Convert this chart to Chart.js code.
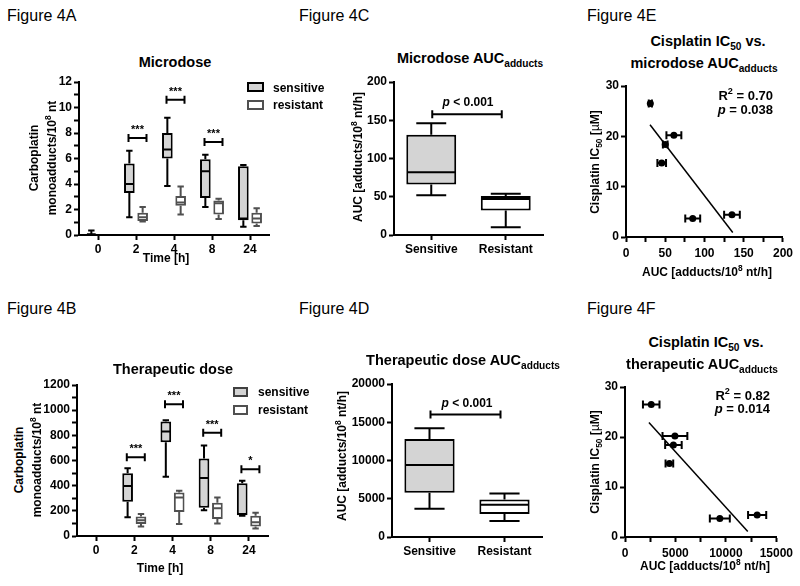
<!DOCTYPE html>
<html>
<head>
<meta charset="utf-8">
<script src="https://cdn.jsdelivr.net/npm/chart.js@4.4.1/dist/chart.umd.min.js"></script>
<style>
  body { margin: 0; background: #fff; }
  #page { position: relative; width: 800px; height: 586px; overflow: hidden; font-family: "Liberation Sans", Arial, Helvetica, sans-serif; color: #000; }
  canvas { position: absolute; }
  .t { position: absolute; white-space: nowrap; font-weight: bold; font-size: 12px; line-height: 1; }
  .t sup, .t sub { font-size: 70%; line-height: 0; }
  .sq { position: absolute; box-sizing: border-box; border: 2px solid #000; }
</style>
</head>
<body>
<div id="page">
  <canvas id="chartA"></canvas>
  <canvas id="chartB"></canvas>
  <canvas id="chartC"></canvas>
  <canvas id="chartD"></canvas>
  <canvas id="chartE"></canvas>
  <canvas id="chartF"></canvas>
</div>
<script>
const FONT = '"Liberation Sans", Arial, Helvetica, sans-serif';
const BOX_FILL = '#d4d4d4';
const RES_LINE = '#505050';

// box plots: [min, q1, median, q3, max] per time point
const timeLabels = ['0', '2', '4', '8', '24'];
const microSensitive = [[0, 0, 0.05, 0.1, 0.35], [1.4, 3.3, 4.0, 5.6, 6.6], [3.85, 6.0, 6.7, 8.0, 9.2], [2.2, 2.9, 5.0, 5.95, 6.3], [0.65, 1.15, 1.3, 5.4, 5.5]];
const microResistant = [null, [1.05, 1.1, 1.4, 1.75, 2.2], [1.6, 2.3, 2.55, 3.05, 3.8], [1.25, 1.6, 2.5, 2.7, 2.85], [0.7, 0.9, 1.3, 1.75, 2.1]];
const microBrackets = [null, 7.6, 10.6, 7.3, null];
const microStars = ['', '***', '***', '***', ''];

const therSensitive = [null, [149, 273, 397, 498, 538], [470, 745, 830, 910, 920], [205, 225, 460, 615, 720], [160, 165, 175, 420, 440]];
const therResistant = [null, [75, 95, 125, 155, 175], [95, 190, 305, 345, 360], [100, 135, 220, 265, 305], [60, 75, 110, 160, 185]];
const therBrackets = [null, 625, 1047, 821, 530];
const therStars = ['', '***', '***', '***', '*'];

const groupLabels = ['Sensitive', 'Resistant'];
const aucMicroSensitive = [52, 66, 82, 131, 146];
const aucMicroResistant = [10, 32, 47, 51, 54];
const aucTherSensitive = [3700, 5800, 9400, 12800, 14200];
const aucTherResistant = [2100, 3000, 4200, 4900, 5700];
const aucMicroBracket = 158;
const aucTherBracket = 16000;

// correlation panels
const ic50 = [26.5, 20.2, 18.4, 14.7, 3.7, 4.4];
const aucMicro = [31, 61, 50, 45.5, 85, 135];
const aucMicroErr = [2, 9.5, 3, 5.5, 9.5, 10];
const aucTher = [2600, 4950, 4800, 4400, 9400, 13100];
const aucTherErr = [820, 1230, 820, 380, 990, 900];
const microFit = [[30.6, 22.3], [136, 0.9]];
const therFit = [[2370, 22.9], [12170, 1.1]];

Chart.defaults.font.family = FONT;
const page = document.getElementById('page');

function text(html, x, y, style) {
  const el = document.createElement('div');
  el.className = 't';
  el.innerHTML = html;
  el.style.left = x + 'px';
  el.style.top = y + 'px';
  el.style.transform = 'translate(-50%, -50%)';
  Object.assign(el.style, style || {});
  page.appendChild(el);
}

function square(x, y, w, h, fill, border) {
  const el = document.createElement('div');
  el.className = 'sq';
  Object.assign(el.style, { left: x + 'px', top: y + 'px', width: w + 'px', height: h + 'px', background: fill, borderColor: border });
  page.appendChild(el);
}

// position a canvas so that its chart area lands on `area`
function setupCanvas(id, area, yW, xH, padTop, padRight) {
  const c = document.getElementById(id);
  const left = area.left - yW;
  const top = area.top - padTop;
  c.style.left = left + 'px';
  c.style.top = top + 'px';
  c.width = area.right + padRight - left;
  c.height = area.bottom + xH - top;
  return c;
}

function axis(ticks, size) {
  return {
    grid: { display: true, drawOnChartArea: false, drawTicks: true, tickLength: 5, tickColor: '#000', tickWidth: 2, offset: false },
    border: { display: true, color: '#000', width: 2 },
    ticks: Object.assign({ color: '#000', font: { family: FONT, size: 12, weight: 'bold' }, padding: 2, autoSkip: false, maxRotation: 0 }, ticks),
    afterFit: size
  };
}

// whiskers + medians on top of floating bars
function boxPlugin(statsList) {
  return {
    id: 'boxes',
    afterDatasetsDraw(chart) {
      const ctx = chart.ctx;
      const ys = chart.scales.y;
      ctx.save();
      ctx.lineWidth = 2;
      statsList.forEach((stats, di) => {
        const ds = chart.data.datasets[di];
        chart.getDatasetMeta(di).data.forEach((bar, i) => {
          const s = stats[i];
          if (!s) return;
          const x = bar.x, w = bar.width, cap = w * 0.3;
          ctx.strokeStyle = Array.isArray(ds.borderColor) ? ds.borderColor[i] : ds.borderColor;
          const p = s.map(v => ys.getPixelForValue(v));
          ctx.beginPath();
          ctx.moveTo(x, p[4]); ctx.lineTo(x, p[3]);
          ctx.moveTo(x, p[1]); ctx.lineTo(x, p[0]);
          ctx.moveTo(x - cap, p[4]); ctx.lineTo(x + cap, p[4]);
          ctx.moveTo(x - cap, p[0]); ctx.lineTo(x + cap, p[0]);
          ctx.moveTo(x - w / 2 + 1, p[2]); ctx.lineTo(x + w / 2 - 1, p[2]);
          ctx.stroke();
        });
      });
      ctx.restore();
    }
  };
}

function bracket(ctx, x0, x1, y) {
  ctx.beginPath();
  ctx.moveTo(x0, y); ctx.lineTo(x1, y);
  ctx.moveTo(x0, y - 4); ctx.lineTo(x0, y + 4);
  ctx.moveTo(x1, y - 4); ctx.lineTo(x1, y + 4);
  ctx.stroke();
}

function starPlugin(levels, stars) {
  return {
    id: 'stars',
    afterDatasetsDraw(chart) {
      const ctx = chart.ctx;
      ctx.save();
      ctx.strokeStyle = '#000';
      ctx.fillStyle = '#000';
      ctx.lineWidth = 2;
      ctx.font = 'bold 11px ' + FONT;
      ctx.textAlign = 'center';
      levels.forEach((v, i) => {
        if (v === null) return;
        const xc = chart.scales.x.getPixelForValue(i) + 1.5;
        const y = chart.scales.y.getPixelForValue(v);
        bracket(ctx, xc - 9, xc + 9, y);
        ctx.fillText(stars[i], xc, y - 5);
      });
      ctx.restore();
    }
  };
}

function pairBracketPlugin(level) {
  return {
    id: 'pair',
    afterDatasetsDraw(chart) {
      const ctx = chart.ctx;
      ctx.save();
      ctx.strokeStyle = '#000';
      ctx.lineWidth = 2;
      bracket(ctx, chart.scales.x.getPixelForValue(0) + 1, chart.scales.x.getPixelForValue(1) - 4, chart.scales.y.getPixelForValue(level));
      ctx.restore();
    }
  };
}

function errorBarPlugin(xs, ys, errs) {
  return {
    id: 'xerr',
    beforeDatasetsDraw(chart) {
      const ctx = chart.ctx, sx = chart.scales.x, sy = chart.scales.y;
      ctx.save();
      ctx.strokeStyle = '#000';
      ctx.lineWidth = 2;
      xs.forEach((v, i) => {
        const x0 = sx.getPixelForValue(v - errs[i]);
        const x1 = sx.getPixelForValue(v + errs[i]);
        const py = sy.getPixelForValue(ys[i]);
        bracket(ctx, x0, x1, py);
      });
      ctx.restore();
    }
  };
}

const baseOptions = (padTop, padRight) => ({
  responsive: false,
  animation: false,
  devicePixelRatio: 1,
  layout: { padding: { top: padTop, right: padRight, left: 0, bottom: 0 } },
  plugins: { legend: { display: false }, tooltip: { enabled: false } }
});

function timeChart(id, area, sens, res, levels, stars, yMax, yStep, yLabelStep) {
  const c = setupCanvas(id, area, 50, 26, 12, 8);
  const opts = baseOptions(12, 8);
  opts.scales = {
    x: axis({}, s => { s.height = 26; }),
    y: axis({ stepSize: yStep, callback: v => (v % yLabelStep === 0 ? String(v) : '') }, s => { s.width = 50; })
  };
  opts.scales.y.min = 0;
  opts.scales.y.max = yMax;
  new Chart(c, {
    type: 'bar',
    data: {
      labels: timeLabels,
      datasets: [
        { label: 'sensitive', data: sens.map(s => (s ? [s[1], s[3]] : null)), backgroundColor: BOX_FILL, borderColor: '#000', borderWidth: 2, borderSkipped: false, categoryPercentage: 0.7, barPercentage: 0.8 },
        { label: 'resistant', data: res.map(s => (s ? [s[1], s[3]] : null)), backgroundColor: '#fff', borderColor: RES_LINE, borderWidth: 2, borderSkipped: false, categoryPercentage: 0.7, barPercentage: 0.8 }
      ]
    },
    options: opts,
    plugins: [boxPlugin([sens, res]), starPlugin(levels, stars)]
  });
}

function groupChart(id, area, yW, sens, res, level, yMax, yStep) {
  const c = setupCanvas(id, area, yW, 26, 12, 6);
  const opts = baseOptions(12, 6);
  opts.scales = {
    x: axis({}, s => { s.height = 26; }),
    y: axis({ stepSize: yStep, callback: v => String(v) }, s => { s.width = yW; })
  };
  opts.scales.y.min = 0;
  opts.scales.y.max = yMax;
  new Chart(c, {
    type: 'bar',
    data: {
      labels: groupLabels,
      datasets: [
        { data: [[sens[1], sens[3]], [res[1], res[3]]], backgroundColor: [BOX_FILL, '#fff'], borderColor: ['#000', '#000'], borderWidth: 2, borderSkipped: false, categoryPercentage: 1, barPercentage: 0.67 }
      ]
    },
    options: opts,
    plugins: [boxPlugin([[sens, res]]), pairBracketPlugin(level)]
  });
}

function corrChart(id, area, padRight, xs, errs, fit, xMax, xStep, xLabelStep) {
  const c = setupCanvas(id, area, 40, 28, 12, padRight);
  const opts = baseOptions(12, padRight);
  opts.scales = {
    x: axis({ stepSize: xStep, padding: 4, callback: v => (v % xLabelStep === 0 ? String(v) : '') }, s => { s.height = 28; }),
    y: axis({ stepSize: 10, callback: v => String(v) }, s => { s.width = 40; })
  };
  opts.scales.x.type = 'linear';
  opts.scales.x.min = 0;
  opts.scales.x.max = xMax;
  opts.scales.y.min = 0;
  opts.scales.y.max = 30;
  new Chart(c, {
    type: 'scatter',
    data: {
      datasets: [
        { data: xs.map((v, i) => ({ x: v, y: ic50[i] })), pointRadius: 3.5, pointBackgroundColor: '#000', pointBorderColor: '#000', pointBorderWidth: 0 },
        { type: 'line', data: fit.map(p => ({ x: p[0], y: p[1] })), borderColor: '#000', borderWidth: 1.5, pointRadius: 0 }
      ]
    },
    options: opts,
    plugins: [errorBarPlugin(xs, ic50, errs)]
  });
}

timeChart('chartA', { left: 79, top: 82, right: 269, bottom: 235 }, microSensitive, microResistant, microBrackets, microStars, 12, 1, 2);
timeChart('chartB', { left: 77, top: 385, right: 268, bottom: 536 }, therSensitive, therResistant, therBrackets, therStars, 1200, 100, 200);
groupChart('chartC', { left: 394, top: 82, right: 543, bottom: 235 }, 45, aucMicroSensitive, aucMicroResistant, aucMicroBracket, 200, 50);
groupChart('chartD', { left: 392, top: 384, right: 542, bottom: 537 }, 45, aucTherSensitive, aucTherResistant, aucTherBracket, 20000, 5000);
corrChart('chartE', { left: 626, top: 86, right: 783, bottom: 237 }, 14, aucMicro, aucMicroErr, microFit, 200, 25, 50);
corrChart('chartF', { left: 625, top: 387, right: 777, bottom: 537 }, 20, aucTher, aucTherErr, therFit, 15000, 2500, 5000);

// panel labels
const figStyle = { fontWeight: 'normal', fontSize: '16px', transform: 'translate(0, -50%)' };
text('Figure 4A', 7, 16, figStyle);
text('Figure 4B', 7, 309, figStyle);
text('Figure 4C', 299, 16, figStyle);
text('Figure 4D', 299, 309, figStyle);
text('Figure 4E', 587, 16, figStyle);
text('Figure 4F', 587, 309, figStyle);

// titles
const titleStyle = { fontSize: '14.5px' };
text('Microdose', 175, 62, titleStyle);
text('Therapeutic dose', 173, 369, titleStyle);
text('Microdose AUC<sub>adducts</sub>', 470, 58, titleStyle);
text('Therapeutic dose AUC<sub>adducts</sub>', 463, 360, titleStyle);
text('Cisplatin IC<sub>50</sub> vs.', 708, 41, titleStyle);
text('microdose AUC<sub>adducts</sub>', 704, 63, titleStyle);
text('Cisplatin IC<sub>50</sub> vs.', 706, 342, titleStyle);
text('therapeutic AUC<sub>adducts</sub>', 702, 364, titleStyle);

// axis titles
const rot = { transform: 'translate(-50%, -50%) rotate(-90deg)' };
text('Carboplatin', 34, 158, rot);
text('monoadducts/10<sup>8</sup> nt', 52, 158, rot);
text('Carboplatin', 19, 460, rot);
text('monoadducts/10<sup>8</sup> nt', 37, 460, rot);
text('AUC [adducts/10<sup>8</sup> nt/h]', 358, 157, rot);
text('AUC [adducts/10<sup>8</sup> nt/h]', 342, 456, rot);
text('Cisplatin IC<sub>50</sub> [<span style="font-weight:normal">µ</span>M]', 595, 162, rot);
text('Cisplatin IC<sub>50</sub> [<span style="font-weight:normal">µ</span>M]', 595, 462, rot);
text('Time [h]', 166, 258);
text('Time [h]', 160, 568);
text('AUC [adducts/10<sup>8</sup> nt/h]', 707, 272);
text('AUC [adducts/10<sup>8</sup> nt/h]', 705, 566);

// legends
square(247, 82, 17, 10, BOX_FILL, '#000');
square(247, 100, 17, 10, '#fff', RES_LINE);
text('sensitive', 273, 88, { transform: 'translate(0, -50%)' });
text('resistant', 273, 105, { transform: 'translate(0, -50%)' });
square(233, 387, 15, 10, BOX_FILL, '#404040');
square(233, 405, 15, 10, '#fff', RES_LINE);
text('sensitive', 258, 392, { transform: 'translate(0, -50%)' });
text('resistant', 258, 410, { transform: 'translate(0, -50%)' });

// statistics
text('<i>p</i> &lt; 0.001', 468, 102);
text('<i>p</i> &lt; 0.001', 467, 403);
const rightStyle = { fontSize: '13px', transform: 'translate(-100%, -50%)' };
text('R<sup>2</sup> = 0.70', 773, 95, rightStyle);
text('<i>p</i> = 0.038', 773, 109, rightStyle);
text('R<sup>2</sup> = 0.82', 770, 395, rightStyle);
text('<i>p</i> = 0.014', 770, 408, rightStyle);
</script>
</body>
</html>
